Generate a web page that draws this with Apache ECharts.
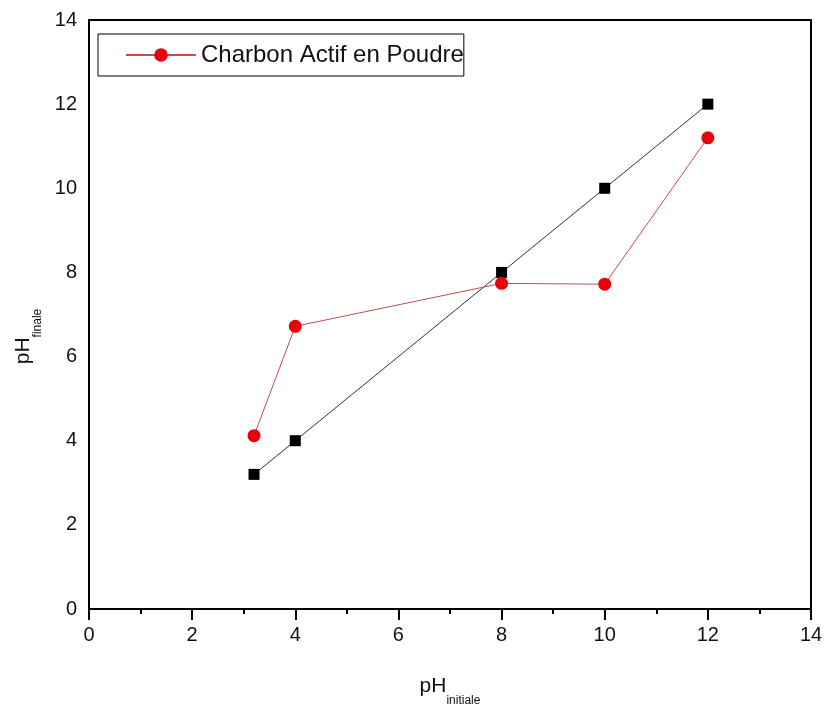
<!DOCTYPE html>
<html>
<head>
<meta charset="utf-8">
<script src="https://cdn.jsdelivr.net/npm/echarts@6/dist/echarts.min.js"></script>
<style>html,body{margin:0;padding:0;background:#fff}#c{width:824px;height:707px}</style>
</head>
<body>
<div id="c"></div>
<script>
const refX = [3.2, 4, 8, 10, 12];
const refY = [3.2, 4, 8, 10, 12];
const capX = [3.2, 4, 8, 10, 12];
const capY = [4.12, 6.72, 7.74, 7.72, 11.2];
const seriesName = 'Charbon Actif en Poudre';
const xTicks = [0, 2, 4, 6, 8, 10, 12, 14];

const chart = echarts.init(document.getElementById('c'));
const font = 'Liberation Sans, Arial, sans-serif';
chart.setOption({
  animation: false,
  backgroundColor: '#fff',
  grid: { left: 89, right: 13, top: 20, bottom: 98, containLabel: false, outerBoundsMode: 'none', show: true, borderColor: '#000', borderWidth: 2, backgroundColor: 'transparent' },
  legend: {
    data: [seriesName],
    left: 98, top: 34,
    borderColor: '#000', borderWidth: 1,
    padding: [9, 0, 9, 27],
    itemWidth: 70, itemHeight: 17, itemGap: 5,
    textStyle: { fontFamily: font, fontSize: 24, color: '#111' }
  },
  xAxis: {
    type: 'value', min: 0, max: 14, interval: 2,
    name: '{m|pH}{s|initiale}', nameLocation: 'middle', nameGap: 67,
    nameTextStyle: { rich: {
      m: { fontFamily: font, fontSize: 21, color: '#111', verticalAlign: 'bottom', padding: [0, 0, 10, 0] },
      s: { fontFamily: font, fontSize: 12, color: '#111', verticalAlign: 'bottom' }
    } },
    axisLine: { lineStyle: { color: '#000', width: 2 } },
    axisTick: { show: true, inside: false, length: 11, lineStyle: { color: '#000', width: 2 } },
    minorTick: { show: true, splitNumber: 2, length: 5, lineStyle: { color: '#000', width: 2 } },
    splitLine: { show: false },
    axisLabel: { fontFamily: font, fontSize: 20, color: '#111', margin: 16, formatter: v => xTicks.includes(v) ? String(v) : '' }
  },
  yAxis: {
    type: 'value', min: 0, max: 14, interval: 2,
    name: '{m|pH}{s|finale}', nameLocation: 'middle', nameGap: 42, nameRotate: 90,
    nameTextStyle: { padding: [0, 44, 0, 0], rich: {
      m: { fontFamily: font, fontSize: 21, color: '#111', verticalAlign: 'bottom', padding: [0, 0, 10, 0] },
      s: { fontFamily: font, fontSize: 12, color: '#111', verticalAlign: 'bottom' }
    } },
    axisLine: { show: true, lineStyle: { color: '#000', width: 2 } },
    axisTick: { show: false },
    splitLine: { show: false },
    axisLabel: { fontFamily: font, fontSize: 20, color: '#111', margin: 12 }
  },
  series: [
    {
      name: 'ref', type: 'line',
      data: refX.map((x, i) => [x, refY[i]]),
      symbol: 'rect', symbolSize: 11,
      itemStyle: { color: '#000' },
      lineStyle: { color: '#333', width: 1 }
    },
    {
      name: seriesName, type: 'line',
      data: capX.map((x, i) => [x, capY[i]]),
      symbol: 'circle', symbolSize: 13,
      itemStyle: { color: '#e8000b' },
      lineStyle: { color: '#c0504d', width: 1 }
    }
  ]
});
</script>
</body>
</html>
